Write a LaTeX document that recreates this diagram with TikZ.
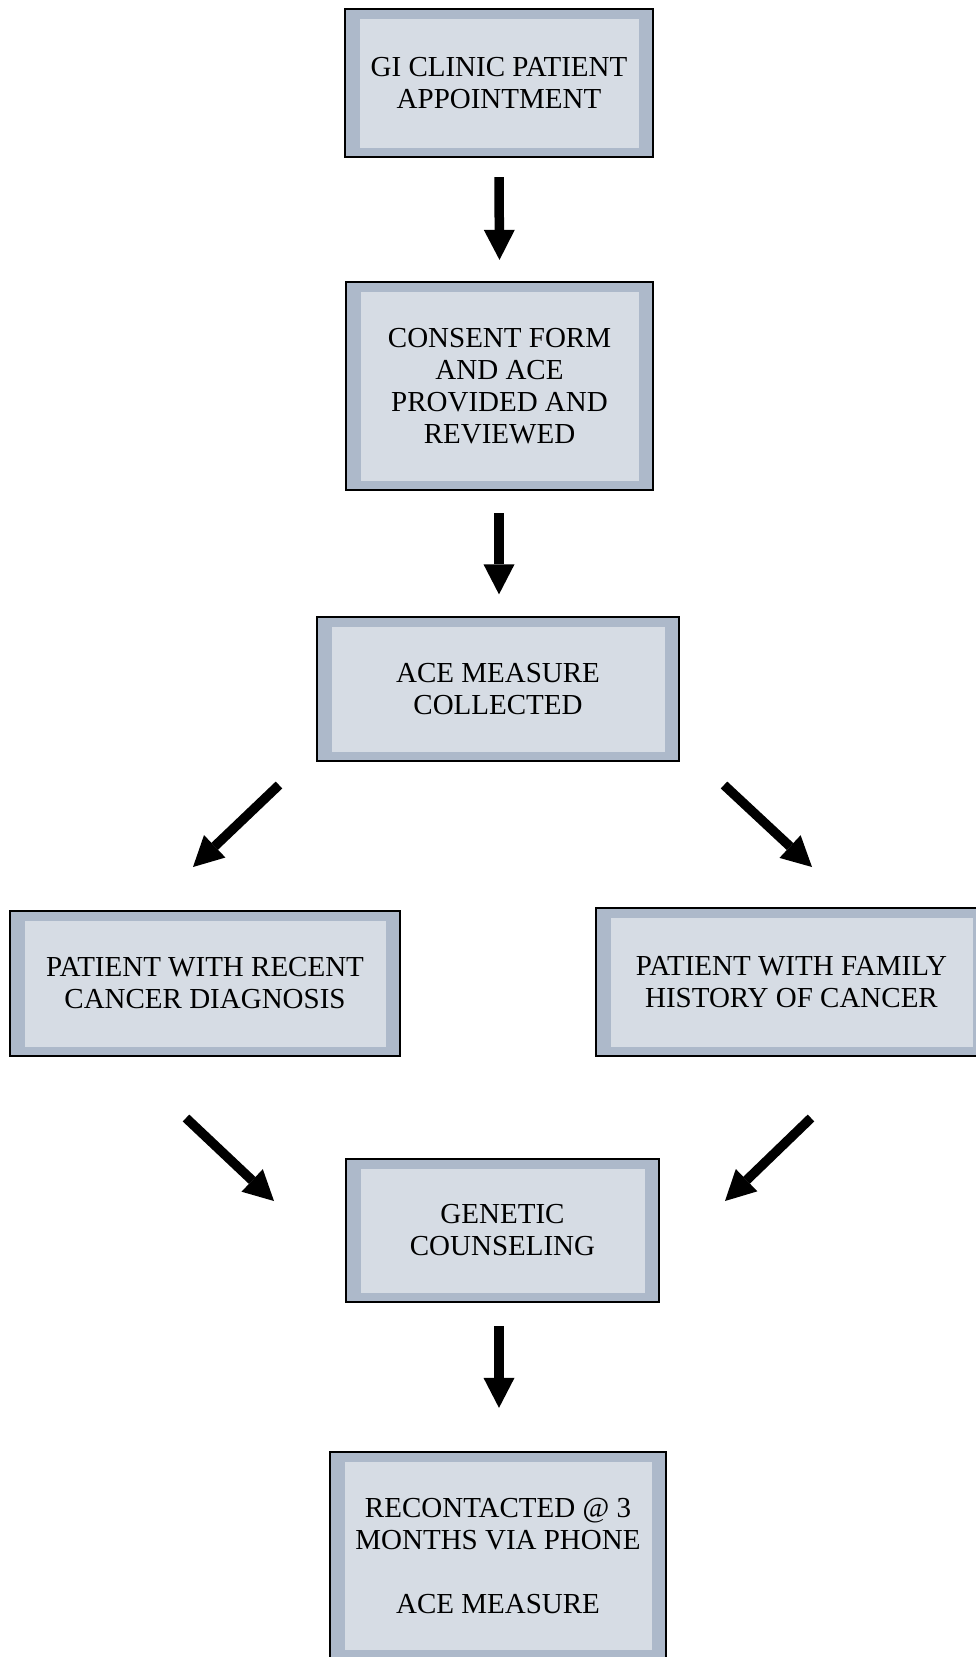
\documentclass[tikz,border=0pt]{standalone}
\usepackage{fontspec}
\setmainfont{Liberation Serif}
\usetikzlibrary{arrows.meta}
\definecolor{bandc}{RGB}{173,185,202}
\definecolor{innerc}{RGB}{214,220,228}
\tikzset{
  box/.style={draw=black, line width=1.3pt, fill=bandc, inner sep=0pt,
    align=center, font=\fontsize{29pt}{32pt}\selectfont,
    path picture={\fill[innerc]
      ([shift={(14.5pt,9.5pt)}]path picture bounding box.south west) rectangle
      ([shift={(-14.5pt,-9.5pt)}]path picture bounding box.north east);}},
  arr/.style={line width=9.5pt, line cap=butt,
    -{Triangle[width=31pt,length=30pt,line width=0pt]}}
}
\begin{document}
\begin{tikzpicture}[x=1pt,y=-1pt]
\useasboundingbox (0,0) rectangle (976,1657);
\clip (0,0) rectangle (976,1657);
\node[box, minimum width=308pt, minimum height=148pt] (b1) at (499,83)
  {GI CLINIC PATIENT\\APPOINTMENT};
\node[box, minimum width=307pt, minimum height=208pt] (b2) at (499.5,386)
  {CONSENT FORM\\AND ACE\\PROVIDED AND\\REVIEWED};
\node[box, minimum width=362pt, minimum height=144pt] (b3) at (498,689)
  {ACE MEASURE\\COLLECTED};
\node[box, minimum width=390pt, minimum height=145pt] (b4) at (205,983.5)
  {PATIENT WITH RECENT\\CANCER DIAGNOSIS};
\node[box, minimum width=391pt, minimum height=148pt] (b5) at (791.5,982)
  {PATIENT WITH FAMILY\\HISTORY OF CANCER};
\node[box, minimum width=313pt, minimum height=143pt] (b6) at (502.5,1230.5)
  {GENETIC\\COUNSELING};
\node[box, minimum width=336pt, minimum height=207pt] (b7) at (498,1555.5)
  {RECONTACTED @ 3\\MONTHS VIA PHONE\\[32pt]ACE MEASURE};
% free ends of the diagonal connectors
\coordinate (d1s) at (279,785);
\coordinate (d1e) at (193,867);
\coordinate (d2s) at (724,785);
\coordinate (d2e) at (812,867);
\coordinate (d3s) at (186,1118);
\coordinate (d3e) at (274,1201);
\coordinate (d4s) at (811,1118);
\coordinate (d4e) at (725,1201);
\draw[arr] ([yshift=-19.5pt]b1.south) -- ([yshift=21.5pt]b2.north);
\draw[arr] ([xshift=-0.5pt,yshift=-22.5pt]b2.south) -- ([xshift=1pt,yshift=22pt]b3.north);
\draw[arr] (d1s) -- (d1e);
\draw[arr] (d2s) -- (d2e);
\draw[arr] (d3s) -- (d3e);
\draw[arr] (d4s) -- (d4e);
\draw[arr] ([xshift=-3.5pt,yshift=-23.5pt]b6.south) -- ([xshift=1pt,yshift=43.5pt]b7.north);
\end{tikzpicture}
\end{document}
